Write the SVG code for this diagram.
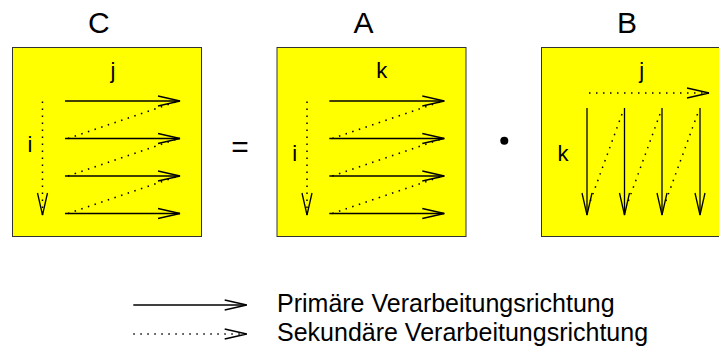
<svg xmlns="http://www.w3.org/2000/svg" width="719" height="349" viewBox="0 0 719 349">
<style>
.box{fill:#ffff00;stroke:#333;stroke-width:1}
.pri{stroke:#000;stroke-width:1.3;fill:none}
.sec{stroke:#000;stroke-width:1.5;fill:none;stroke-dasharray:1.5 5.5}
text{font-family:"Liberation Sans",Arial,sans-serif;fill:#000}
.t{font-size:30px;text-anchor:middle}
.l{font-size:22px;text-anchor:middle}
.g{font-size:25px}
</style>
<defs>
<marker id="ah" markerUnits="userSpaceOnUse" markerWidth="24" markerHeight="12" refX="22" refY="6" orient="auto" overflow="visible">
<path d="M0,1 L22,6 L0,11" fill="none" stroke="#000" stroke-width="1.3"/>
</marker>
</defs>
<g id="matrixC">
<text class="t" x="98.8" y="33.3">C</text>
<rect class="box" x="12.5" y="47.5" width="189" height="189"/>
<text class="l" x="113" y="77.5">j</text>
<text class="l" x="30" y="151.7">i</text>
</g>
<g id="equals">
<text class="t" x="240" y="156.5">=</text>
</g>
<g id="matrixA">
<text class="t" x="363.5" y="33.3">A</text>
<rect class="box" x="277" y="47.5" width="189" height="189"/>
<text class="l" x="381.7" y="77.7">k</text>
<text class="l" x="294.7" y="160.7">i</text>
</g>
<g id="dot">
<circle cx="504.3" cy="140.7" r="4" fill="#000"/>
</g>
<g id="matrixB">
<text class="t" x="627" y="33.3">B</text>
<rect class="box" x="541.5" y="47.5" width="200" height="189"/>
<text class="l" x="641.7" y="77.7">j</text>
<text class="l" x="563" y="161">k</text>
</g>
<g id="connectors">
<!-- C -->
<line class="pri" x1="65" y1="101" x2="180" y2="101" marker-end="url(#ah)"/>
<line class="pri" x1="65" y1="138.5" x2="180" y2="138.5" marker-end="url(#ah)"/>
<line class="pri" x1="65" y1="176" x2="180" y2="176" marker-end="url(#ah)"/>
<line class="pri" x1="65" y1="213.5" x2="180" y2="213.5" marker-end="url(#ah)"/>
<line class="sec" x1="68" y1="138.5" x2="177" y2="101.5"/>
<line class="sec" x1="68" y1="176" x2="177" y2="139"/>
<line class="sec" x1="68" y1="213.5" x2="177" y2="176.5"/>
<line class="sec" x1="42.5" y1="101.5" x2="42.5" y2="215" marker-end="url(#ah)"/>
<!-- A -->
<line class="pri" x1="329.3" y1="101" x2="444.3" y2="101" marker-end="url(#ah)"/>
<line class="pri" x1="329.3" y1="138.5" x2="444.3" y2="138.5" marker-end="url(#ah)"/>
<line class="pri" x1="329.3" y1="176" x2="444.3" y2="176" marker-end="url(#ah)"/>
<line class="pri" x1="329.3" y1="213.5" x2="444.3" y2="213.5" marker-end="url(#ah)"/>
<line class="sec" x1="332.3" y1="138.5" x2="441.3" y2="101.5"/>
<line class="sec" x1="332.3" y1="176" x2="441.3" y2="139"/>
<line class="sec" x1="332.3" y1="213.5" x2="441.3" y2="176.5"/>
<line class="sec" x1="307" y1="101.5" x2="307" y2="215" marker-end="url(#ah)"/>
<!-- B -->
<line class="pri" x1="587" y1="108" x2="587" y2="215" marker-end="url(#ah)"/>
<line class="pri" x1="624.5" y1="108" x2="624.5" y2="215" marker-end="url(#ah)"/>
<line class="pri" x1="662" y1="108" x2="662" y2="215" marker-end="url(#ah)"/>
<line class="pri" x1="700" y1="108" x2="700" y2="215" marker-end="url(#ah)"/>
<line class="sec" x1="622" y1="114" x2="590" y2="202"/>
<line class="sec" x1="660" y1="114" x2="628" y2="202"/>
<line class="sec" x1="697.5" y1="114" x2="665.5" y2="202"/>
<line class="sec" x1="589" y1="93" x2="709" y2="93" marker-end="url(#ah)"/>
<!-- legend -->
<line class="pri" x1="133.3" y1="305" x2="246.7" y2="305" marker-end="url(#ah)"/>
<line class="sec" x1="133.3" y1="334" x2="246.7" y2="334" marker-end="url(#ah)"/>
</g>
<g id="legend">
<text class="g" x="277" y="311.7">Primäre Verarbeitungsrichtung</text>
<text class="g" x="277" y="340.5">Sekundäre Verarbeitungsrichtung</text>
</g>
</svg>
